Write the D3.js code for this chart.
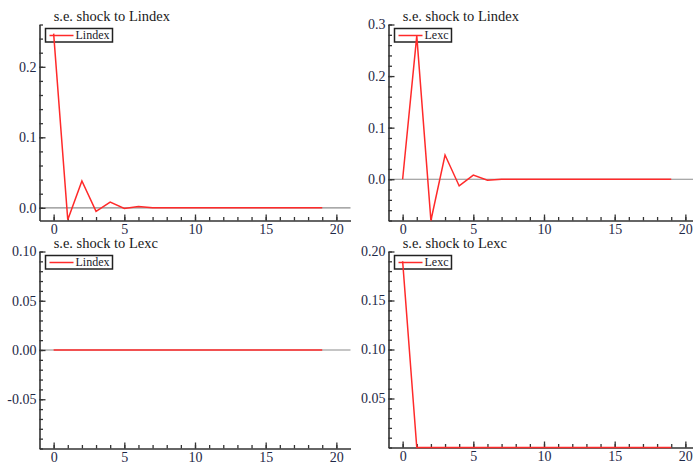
<!DOCTYPE html>
<html>
<head>
<meta charset="utf-8">
<script src="https://cdn.jsdelivr.net/npm/d3@7"></script>
<style>
  body { margin: 0; background: #fff; }
  svg { display: block; }
  text { font-family: "Liberation Serif", "DejaVu Serif", serif; }
  .axis path, .axis line { stroke: #333; }
  .axis path { stroke-width: 1.6; }
  .axis line { stroke-width: 1.3; }
  .axis text { fill: #1e2846; font-size: 14px; font-family: "Liberation Serif", serif; }
</style>
</head>
<body>
<svg width="693" height="466"></svg>
<script>
// impulse responses, horizons 0..19
const horizons = [0, 1, 2, 3, 4, 5, 6, 7, 8, 9, 10, 11, 12, 13, 14, 15, 16, 17, 18, 19];

// s.e. shock to Lindex
const lindexToLindex = [0.247, -0.017, 0.038, -0.005, 0.008, -0.001, 0.002, 0.0, 0.0, 0.0,
                        0.0, 0.0, 0.0, 0.0, 0.0, 0.0, 0.0, 0.0, 0.0, 0.0];
const lexcToLindex   = [0.0, 0.278, -0.08, 0.047, -0.013, 0.008, -0.002, 0.0, 0.0, 0.0,
                        0.0, 0.0, 0.0, 0.0, 0.0, 0.0, 0.0, 0.0, 0.0, 0.0];
// s.e. shock to Lexc
const lindexToLexc   = [0.0, 0.0, 0.0, 0.0, 0.0, 0.0, 0.0, 0.0, 0.0, 0.0,
                        0.0, 0.0, 0.0, 0.0, 0.0, 0.0, 0.0, 0.0, 0.0, 0.0];
const lexcToLexc     = [0.19, 0.0, 0.0, 0.0, 0.0, 0.0, 0.0, 0.0, 0.0, 0.0,
                        0.0, 0.0, 0.0, 0.0, 0.0, 0.0, 0.0, 0.0, 0.0, 0.0];

const xTickLabels = [0, 5, 10, 15, 20];
const yTicksTL = [0.0, 0.1, 0.2];
const yTicksTR = [0.0, 0.1, 0.2, 0.3];
const yTicksBL = [-0.05, 0.0, 0.05, 0.10];
const yTicksBR = [0.05, 0.10, 0.15, 0.20];

const panels = [
  { shock: 'Lindex', name: 'Lindex', values: lindexToLindex, yTicks: yTicksTL, digits: 1,
    left: 39.5, right: 350.5, top: 24.5, bottom: 220.5, yDomain: [-0.018, 0.26], minor: 0.02 },
  { shock: 'Lindex', name: 'Lexc', values: lexcToLindex, yTicks: yTicksTR, digits: 1,
    left: 388.5, right: 699.5, top: 24.5, bottom: 220.5, yDomain: [-0.08, 0.3], minor: 0.02 },
  { shock: 'Lexc', name: 'Lindex', values: lindexToLexc, yTicks: yTicksBL, digits: 2,
    left: 39.5, right: 350.5, top: 251.5, bottom: 448.5, yDomain: [-0.1, 0.1], minor: 0.01 },
  { shock: 'Lexc', name: 'Lexc', values: lexcToLexc, yTicks: yTicksBR, digits: 2,
    left: 388.5, right: 699.5, top: 251.5, bottom: 447.5, yDomain: [0, 0.2], minor: 0.01 }
];

const svg = d3.select('svg');

panels.forEach(p => {
  const xScale = d3.scaleLinear().domain([-1, 21]).range([p.left, p.right]);
  const yScale = d3.scaleLinear().domain(p.yDomain).range([p.bottom, p.top]);

  const g = svg.append('g');

  // zero reference line
  if (p.yDomain[0] < 0) {
    g.append('line')
      .attr('x1', p.left).attr('x2', p.right)
      .attr('y1', yScale(0)).attr('y2', yScale(0))
      .attr('stroke', '#8c8c8c').attr('stroke-width', 1.2);
  }

  // minor ticks first, then major ticks with labels (ticks point inward)
  const eps = 1e-9;
  const yMinor = d3.range(Math.ceil(p.yDomain[0] / p.minor - eps) * p.minor, p.yDomain[1] + eps, p.minor);
  g.append('g').attr('class', 'axis')
    .attr('transform', `translate(0,${p.bottom})`)
    .call(d3.axisBottom(xScale).tickValues(horizons.concat([20])).tickSizeInner(-3.5).tickSizeOuter(0).tickFormat(''));
  g.append('g').attr('class', 'axis')
    .attr('transform', `translate(${p.left},0)`)
    .call(d3.axisLeft(yScale).tickValues(yMinor).tickSizeInner(-3.5).tickSizeOuter(0).tickFormat(''));

  g.append('g').attr('class', 'axis')
    .attr('transform', `translate(0,${p.bottom})`)
    .call(d3.axisBottom(xScale).tickValues(xTickLabels).tickSizeInner(-6).tickSizeOuter(0).tickPadding(4))
    .call(a => a.select('.domain').remove());
  g.append('g').attr('class', 'axis')
    .attr('transform', `translate(${p.left},0)`)
    .call(d3.axisLeft(yScale).tickValues(p.yTicks).tickSizeInner(-6).tickSizeOuter(0).tickPadding(3)
      .tickFormat(d => d.toFixed(p.digits)))
    .call(a => a.select('.domain').remove());

  // title
  g.append('text')
    .attr('x', xScale(0)).attr('y', p.top - 4)
    .attr('font-size', 14.5).attr('fill', '#1a1a1a')
    .text('s.e. shock to ' + p.shock);

  // legend
  const lx = p.left + 6, ly = p.top + 4;
  const label = g.append('text')
    .attr('x', lx + 30).attr('y', ly + 10.5)
    .attr('font-size', 12).attr('fill', '#1a1a2a')
    .text(p.name);
  const tw = label.node().getComputedTextLength();
  g.append('rect')
    .attr('x', lx).attr('y', ly)
    .attr('width', tw + 33).attr('height', 13.5)
    .attr('fill', 'none').attr('stroke', '#222').attr('stroke-width', 1.5);
  g.append('line')
    .attr('x1', lx + 4).attr('x2', lx + 28)
    .attr('y1', ly + 7).attr('y2', ly + 7)
    .attr('stroke', '#ff2a2a').attr('stroke-width', 1.5);

  // response line
  const line = d3.line()
    .x((d, i) => xScale(horizons[i]))
    .y(d => yScale(d));
  g.append('path')
    .datum(p.values)
    .attr('d', line)
    .attr('fill', 'none')
    .attr('stroke', '#ff2a2a')
    .attr('stroke-width', 1.5);
});
</script>
</body>
</html>
